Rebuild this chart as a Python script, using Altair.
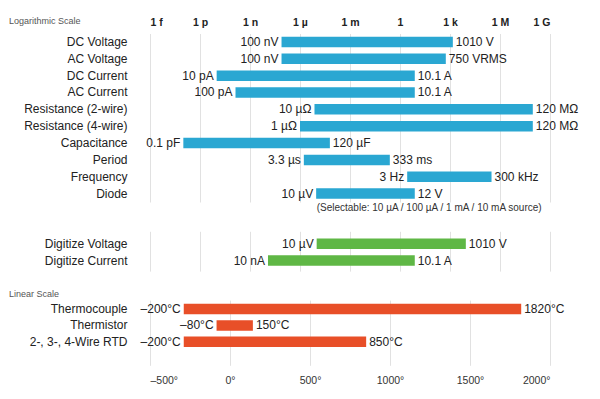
import json
import altair as alt
import pandas as pd

FONT = "Liberation Sans"
GRID = "#e1e1e1"
BLUE = "#2aa7d2"
GREEN = "#5fb745"
ORANGE = "#e84f28"

# ---- logarithmic section ----
log_rows = ["DC Voltage", "AC Voltage", "DC Current", "AC Current",
            "Resistance (2-wire)", "Resistance (4-wire)", "Capacitance",
            "Period", "Frequency", "Diode"]
log_lo = [7.8e-8, 7.8e-8, 1e-11, 1.35e-10, 7.4e-6, 1e-6, 1e-13, 1.7e-6, 2.7, 9.3e-6]
log_hi = [1480, 560, 7.7, 7.7, 9.3e7, 9.3e7, 6.2e-5, 0.245, 3.1e5, 7.7]
log_lo_text = ["100 nV", "100 nV", "10 pA", "100 pA", "10 µΩ", "1 µΩ",
               "0.1 pF", "3.3 µs", "3 Hz", "10 µV"]
log_hi_text = ["1010 V", "750 VRMS", "10.1 A", "10.1 A", "120 MΩ", "120 MΩ",
               "120 µF", "333 ms", "300 kHz", "12 V"]
note_text = "(Selectable: 10 µA / 100 µA / 1 mA / 10 mA source)"
note_row = "Diode"
note_at = 1e-5

# ---- digitize section ----
dig_rows = ["Digitize Voltage", "Digitize Current"]
dig_lo = [1e-5, 1.2e-8]
dig_hi = [8900, 7.7]
dig_lo_text = ["10 µV", "10 nA"]
dig_hi_text = ["1010 V", "10.1 A"]

# ---- linear section ----
lin_rows = ["Thermocouple", "Thermistor", "2-, 3-, 4-Wire RTD"]
lin_lo = [-289, -84, -289]
lin_hi = [1820, 143, 851]
lin_lo_text = ["–200°C", "–80°C", "–200°C"]
lin_hi_text = ["1820°C", "150°C", "850°C"]

log_ticks = [1e-15, 1e-12, 1e-9, 1e-6, 1e-3, 1, 1e3, 1e6, 1e9]
log_tick_labels = ["1 f", "1 p", "1 n", "1 µ", "1 m", "1", "1 k", "1 M", "1 G"]
lin_ticks = [-500, 0, 500, 1000, 1500, 2000]
lin_tick_labels = ["–500°", "0°", "500°", "1000°", "1500°", "2000°"]

W = 400


def frame(rows, lo, hi, lo_t, hi_t):
    return pd.DataFrame({"row": rows, "lo": lo, "hi": hi, "lo_t": lo_t, "hi_t": hi_t})


def xenc(field, scale, axis):
    return alt.X(f"{field}:Q", scale=scale, axis=axis, title=None)


def yenc(rows, yscale, yaxis, title):
    return alt.Y("row:N", sort=rows, scale=yscale, axis=yaxis, title=title)


def section(df, rows, color, scale, xaxis, yaxis, title, height, yscale, extra=None):
    base = alt.Chart(df)
    y = yenc(rows, yscale, yaxis, title)
    bars = base.mark_bar(color=color, size=10.5).encode(
        x=xenc("lo", scale, xaxis), x2="hi:Q", y=y)
    left = base.mark_text(align="right", baseline="middle", dx=-3, font=FONT,
                          fontSize=12, color="#222").encode(
        x=xenc("lo", scale, xaxis), y=y, text="lo_t:N")
    right = base.mark_text(align="left", baseline="middle", dx=3, font=FONT,
                           fontSize=12, color="#222").encode(
        x=xenc("hi", scale, xaxis), y=y, text="hi_t:N")
    layers = [bars, left, right]
    if extra is not None:
        layers.append(extra)
    return alt.layer(*layers).properties(width=W, height=height)


log_scale = alt.Scale(type="log", domain=[log_ticks[0], log_ticks[-1]], nice=False)
lin_scale = alt.Scale(type="linear", domain=[lin_ticks[0], lin_ticks[-1]], nice=False)

log_expr = json.dumps(log_tick_labels, ensure_ascii=False) + "[round((log(datum.value)/LN10 + 15)/3)]"
lin_expr = json.dumps(lin_tick_labels, ensure_ascii=False) + "[round((datum.value + 500)/500)]"

axis_top = alt.Axis(orient="top", values=log_ticks, labelExpr=log_expr, ticks=False,
                    domain=False, grid=True, gridColor=GRID, labelFont=FONT,
                    labelFontSize=10.5, labelFontWeight="bold", labelColor="#222",
                    labelPadding=6.2)
axis_mid = alt.Axis(orient="top", values=log_ticks, labels=False, ticks=False,
                    domain=False, grid=True, gridColor=GRID)
axis_bot = alt.Axis(orient="bottom", values=lin_ticks, labelExpr=lin_expr, ticks=False,
                    domain=False, grid=True, gridColor=GRID, labelFont=FONT,
                    labelFontSize=10.5, labelColor="#333", labelPadding=10)


def yaxis(title=None, ty=0):
    kw = dict(ticks=False, domain=False, grid=False, labelFont=FONT, labelFontSize=12,
              labelColor="#222", labelPadding=23, minExtent=141.5, maxExtent=141.5)
    if title:
        kw.update(titleAngle=0, titleAlign="left", titleBaseline="middle",
                  titleX=-141.5, titleY=ty, titleFont=FONT, titleFontSize=9,
                  titleFontWeight="normal", titleColor="#555")
    return alt.Axis(**kw)


df_log = frame(log_rows, log_lo, log_hi, log_lo_text, log_hi_text)
df_dig = frame(dig_rows, dig_lo, dig_hi, dig_lo_text, dig_hi_text)
df_lin = frame(lin_rows, lin_lo, lin_hi, lin_lo_text, lin_hi_text)

y1 = yaxis("Logarithmic Scale", -12.9)
ys1 = alt.Scale(paddingInner=0, paddingOuter=0)
note = alt.Chart(pd.DataFrame({"row": [note_row], "lo": [note_at], "t": [note_text]})).mark_text(
    align="left", baseline="middle", dy=14.3, font=FONT, fontSize=10, color="#333").encode(
    x=xenc("lo", log_scale, axis_top),
    y=yenc(log_rows, ys1, y1, "Logarithmic Scale"),
    text="t:N")

p1 = section(df_log, log_rows, BLUE, log_scale, axis_top, y1, "Logarithmic Scale",
             168.5, ys1, extra=note)
p2 = section(df_dig, dig_rows, GREEN, log_scale, axis_mid, yaxis(), None, 39.8,
             alt.Scale(paddingInner=0, paddingOuter=0.1925, align=0.65))
p3 = section(df_lin, lin_rows, ORANGE, lin_scale, axis_bot, yaxis("Linear Scale", -6.8),
             "Linear Scale", 65.2,
             alt.Scale(paddingInner=0, paddingOuter=0.5, align=0.052))

chart = alt.vconcat(p1, p2, p3, spacing=28.8, bounds="flush").resolve_scale(
    x="independent", y="independent").properties(
    padding={"left": 0, "top": 8.5, "right": 0, "bottom": 0},
    background="white").configure_view(stroke=None)

chart.save("out.html", embed_options={"renderer": "svg", "actions": False})
